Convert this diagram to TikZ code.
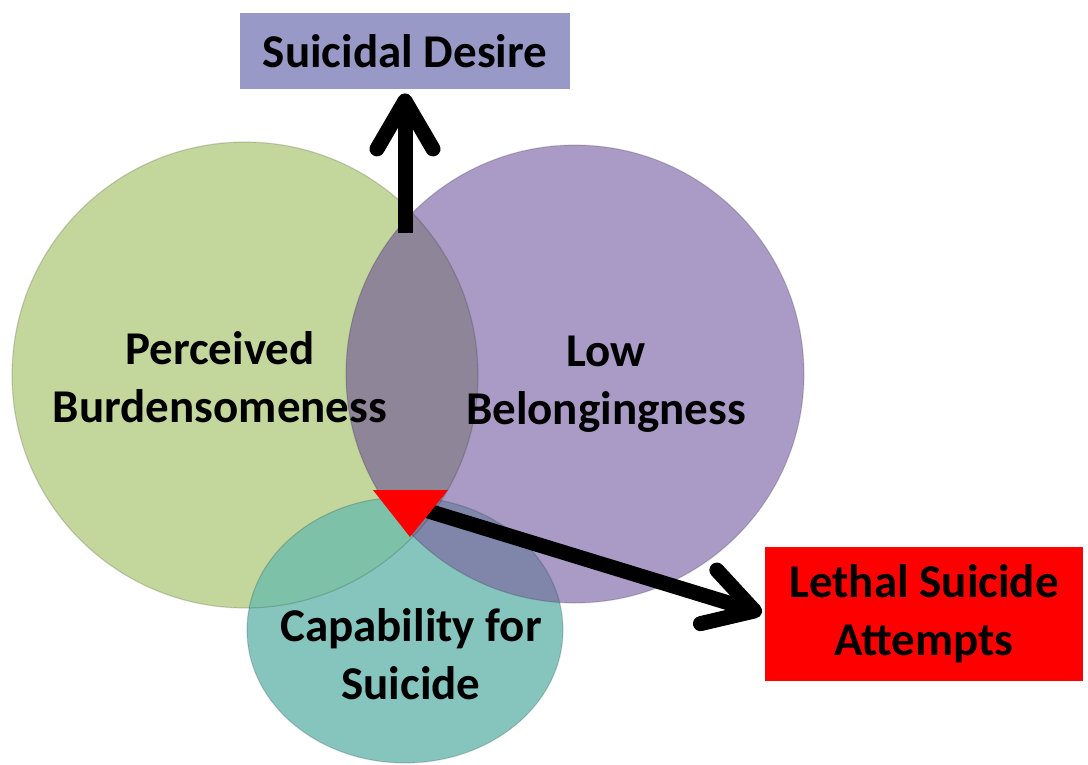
\documentclass[tikz,border=0pt]{standalone}
\usepackage{fontspec}
\setmainfont{Carlito}
\usetikzlibrary{arrows.meta}
\usetikzlibrary{positioning}
\definecolor{burden}{HTML}{C3D69B}
\definecolor{belong}{HTML}{A99BC6}
\definecolor{capab}{HTML}{86C5BD}
\definecolor{burdbel}{HTML}{8F8599}
\definecolor{burdcap}{HTML}{7DC1A9}
\definecolor{belcap}{HTML}{7F86AA}
\definecolor{allthree}{HTML}{7C7E9A}
\definecolor{desirebox}{HTML}{9899C6}

\def\burd{(245,375) circle [radius=233]}
\def\bel{(575,374) circle [radius=229]}
\def\capa{(405,630) circle [x radius=158, y radius=133]}

\tikzset{
  every node/.style={font=\fontsize{23.5}{29}\selectfont\bfseries},
  bigarrow/.style={line width=7.5pt, line cap=butt,
    -{Straight Barb[length=24pt, width=28pt, line cap=round, line join=round]}},
  rim/.style={draw=black, draw opacity=0.15, line width=0.6pt}
}

\begin{document}
\begin{tikzpicture}[x=0.5pt, y=-0.5pt]
    \fill[white] (0,0) rectangle (1088,765);
    \useasboundingbox (0,0) rectangle (1088,765);

    % the three circles and their overlaps
    \fill[burden] \burd;
    \fill[belong] \bel;
    \begin{scope}
        \clip \burd;
        \fill[burdbel] \bel;
    \end{scope}
    \fill[capab] \capa;
    \begin{scope}
        \clip \capa;
        \fill[burdcap] \burd;
        \fill[belcap] \bel;
        \clip \burd;
        \fill[allthree] \bel;
    \end{scope}
    \path[rim] \burd;
    \path[rim] \bel;
    \path[rim] \capa;

    \node[align=center] (pb) at (220,377) {Perceived\\Burdensomeness};
    \node[align=center] (lb) at (606,384) {Low\\Belongingness};
    \node[align=center] (cs) at (411,654) {Capability for\\Suicide};

    \node[fill=desirebox, minimum width=165pt, minimum height=38pt] (desire) at (405,51) {Suicidal Desire};
    \node[fill=red, align=center, minimum width=159pt, minimum height=67pt] (lethal) at (924,614) {Lethal Suicide\\Attempts};

    \coordinate (apex) at (405,233);
    \coordinate (tri) at (425,510);

    \draw[bigarrow, shorten >=2pt] (apex) -- (desire.south);
    \draw[bigarrow, shorten >=1.5pt] (tri) -- (lethal.west);

    \fill[red] (373,490) -- (448,490) -- (410,537) -- cycle;
\end{tikzpicture}
\end{document}
